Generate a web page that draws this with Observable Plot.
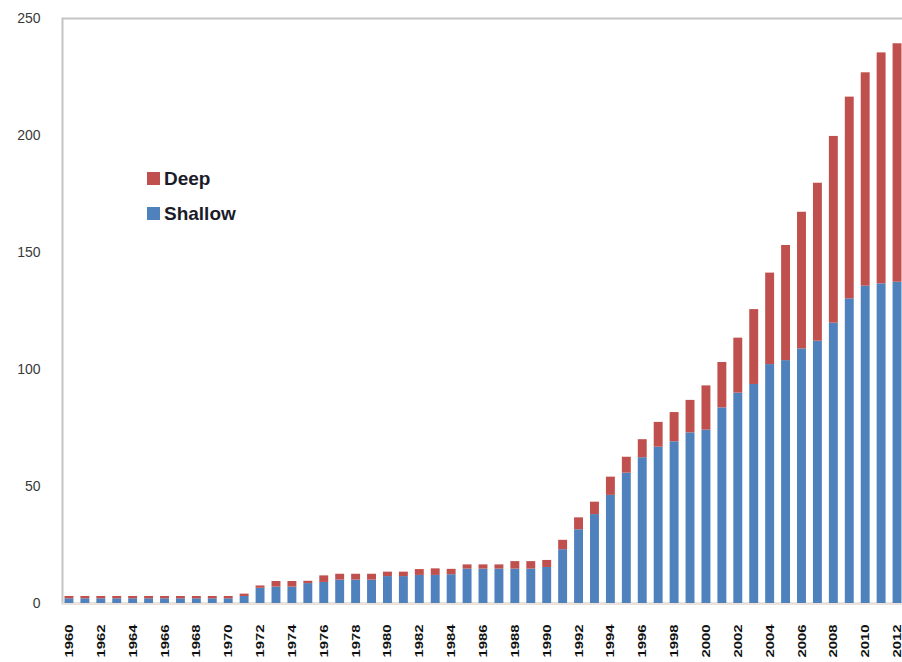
<!DOCTYPE html>
<html><head><meta charset="utf-8">
<script src="https://cdn.jsdelivr.net/npm/d3@7"></script>
<script src="https://cdn.jsdelivr.net/npm/@observablehq/plot@0.6"></script>
<style>
html,body{margin:0;padding:0;background:#fff;overflow:hidden;width:902px;height:662px}
#wrap{position:relative;width:902px;height:662px;overflow:hidden}
#legend{position:absolute;left:147px;top:161px;font-family:"Liberation Sans",Arial,sans-serif;font-weight:bold;font-size:19px;color:#1b1b2a}
.item{display:flex;align-items:center;height:35px}
.sw{width:13px;height:13px;margin-right:4px}
</style></head><body><div id="wrap"><div id="legend"></div></div>
<script>
const years = [1960,1961,1962,1963,1964,1965,1966,1967,1968,1969,1970,1971,1972,1973,1974,1975,1976,1977,1978,1979,1980,1981,1982,1983,1984,1985,1986,1987,1988,1989,1990,1991,1992,1993,1994,1995,1996,1997,1998,1999,2000,2001,2002,2003,2004,2005,2006,2007,2008,2009,2010,2011,2012];
const shallow = [2,2,2,2,2,2,2,2,2,2,2,3,6.5,7,7,8.5,9,10,10,10,11.5,11.5,12,12,12.3,14.7,14.7,14.7,14.7,14.7,15.4,23,31.5,38,46.2,55.7,62.3,66.8,69.1,72.9,74.1,83.6,89.9,93.6,102.1,103.8,108.8,112.1,119.8,130.2,135.6,136.6,137.3];
const deep = [1,1,1,1,1,1,1,1,1,1,1,1,1,2.4,2.4,1,2.8,2.5,2.5,2.5,1.9,1.9,2.5,2.8,2.3,1.8,1.8,1.8,3.2,3.2,3,4,5.1,5.3,7.8,6.8,7.7,10.6,12.5,13.9,18.9,19.4,23.5,32,39.1,49.2,58.4,67.5,79.8,86.2,91.2,98.7,101.9];
const seriesNames = ["Shallow","Deep"];
const seriesColors = ["#4f81bd","#c0504d"];
const xTickLabels = [1960,1962,1964,1966,1968,1970,1972,1974,1976,1978,1980,1982,1984,1986,1988,1990,1992,1994,1996,1998,2000,2002,2004,2006,2008,2010,2012];
const yTicks = [0,50,100,150,200,250];

const rows = [];
years.forEach((yr,i)=>rows.push({year:yr, series:"Shallow", value:shallow[i]}));
years.forEach((yr,i)=>rows.push({year:yr, series:"Deep", value:deep[i]}));

const svg = Plot.plot({
  width: 906, height: 662,
  marginLeft: 62, marginRight: 0, marginTop: 18, marginBottom: 59,
  style: {maxWidth: "none", fontFamily: "'Liberation Sans', Arial, sans-serif", fontSize: "14px", background: "#fff"},
  x: {type: "band", domain: years, range: [61, 905], paddingInner: 0.44, paddingOuter: 0.22,
      tickSize: 0, tickPadding: 21, tickRotate: -90, label: null,
      tickFormat: d => xTickLabels.includes(d) ? String(d) : ""},
  y: {domain: [0, 250], ticks: yTicks, tickSize: 0, tickPadding: 22, label: null},
  color: {domain: seriesNames, range: seriesColors},
  marks: [
    Plot.frame({stroke: "#c4c4c4", strokeWidth: 2}),
    Plot.ruleY([0], {stroke: "#ebe3da", strokeWidth: 2}),
    Plot.barY(rows, {x: "year", y: "value", fill: "series", z: "series"})
  ]
});
document.getElementById("wrap").appendChild(svg);
svg.style.position = "absolute"; svg.style.left = "0"; svg.style.top = "0";

d3.select(svg).selectAll('g[aria-label^="x-axis"] text')
  .attr("font-weight", "bold").attr("font-size", 11).attr("fill", "#111")
  .each(function(){ const t = this.getAttribute("transform") || ""; this.setAttribute("transform", t + " scale(1.35,1)"); });
d3.select(svg).selectAll('g[aria-label^="y-axis"] text').attr("fill", "#3a3a3a");

const legend = document.getElementById("legend");
legend.style.zIndex = 2;
[["Deep", seriesColors[1]], ["Shallow", seriesColors[0]]].forEach(([name, col]) => {
  const it = document.createElement("div"); it.className = "item";
  const sw = document.createElement("span"); sw.className = "sw"; sw.style.background = col;
  const tx = document.createElement("span"); tx.textContent = name;
  it.appendChild(sw); it.appendChild(tx); legend.appendChild(it);
});
</script></body></html>
